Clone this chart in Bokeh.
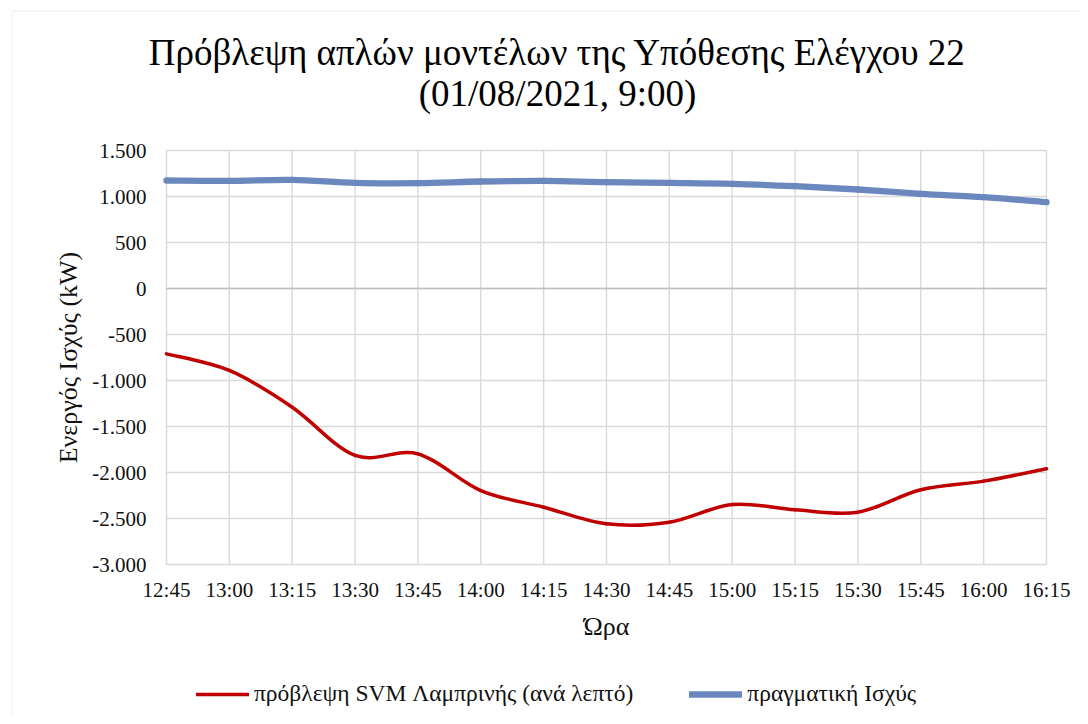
import numpy as np
from bokeh.plotting import figure
from bokeh.models import (Range1d, FixedTicker, Label, Legend, LegendItem,
                          PolyAnnotation, LinearAxis)
from bokeh.embed import file_html
from bokeh.resources import INLINE

# ---------------- data ----------------
times = ["12:45", "13:00", "13:15", "13:30", "13:45", "14:00", "14:15", "14:30",
         "14:45", "15:00", "15:15", "15:30", "15:45", "16:00", "16:15"]
svm_forecast = [-710, -891, -1290, -1815, -1797, -2196, -2377, -2558,
                -2540, -2348, -2406, -2431, -2188, -2094, -1960]
actual_power = [1174, 1170, 1181, 1148, 1145, 1163, 1170, 1156,
                1148, 1138, 1112, 1076, 1029, 993, 938]
y_ticks = [-3000, -2500, -2000, -1500, -1000, -500, 0, 500, 1000, 1500]
y_tick_labels = ["-3.000", "-2.500", "-2.000", "-1.500", "-1.000", "-500",
                 "0", "500", "1.000", "1.500"]
title_lines = ["Πρόβλεψη απλών μοντέλων της Υπόθεσης Ελέγχου 22",
               "(01/08/2021, 9:00)"]
x_title = "Ώρα"
y_title = "Ενεργός Ισχύς (kW)"
series_names = ["πρόβλεψη SVM Λαμπρινής (ανά λεπτό)", "πραγματική Ισχύς"]

FONT = "Liberation Serif"
W, H = 1080, 716
# plot-area placement (canvas pixels)
PL, PR, PT, PB = 166, 1046, 150, 564
Y_MIN, Y_MAX = y_ticks[0], y_ticks[-1]
N = len(times) - 1
GRID = "#D9D9D9"


def smooth_segments(vals):
    """Bezier control points (Excel-like smoothed line) through the points."""
    y = np.asarray(vals, dtype=float)
    x = np.arange(len(y), dtype=float)
    n = len(y)
    xm = np.concatenate([[x[0]], x, [x[-1]]])
    ym = np.concatenate([[y[0]], y, [y[-1]]])
    x0, y0 = x[:-1], y[:-1]
    x1, y1 = x[1:], y[1:]
    cx0 = x0 + (xm[2:n + 1] - xm[0:n - 1]) / 6.0
    cy0 = y0 + (ym[2:n + 1] - ym[0:n - 1]) / 6.0
    cx1 = x1 - (xm[3:n + 2] - xm[1:n]) / 6.0
    cy1 = y1 - (ym[3:n + 2] - ym[1:n]) / 6.0
    return dict(x0=x0, y0=y0, x1=x1, y1=y1, cx0=cx0, cy0=cy0, cx1=cx1, cy1=cy1)


# the frame covers the whole canvas; ranges chosen so the plot area sits at PL..PR, PT..PB
xpu = (PR - PL) / N
ypu = (PB - PT) / (Y_MAX - Y_MIN)
x_range = Range1d(-PL / xpu, N + (W - PR) / xpu)
y_range = Range1d(Y_MIN - (H - PB) / ypu, Y_MAX + PT / ypu)

p = figure(width=W, height=H, x_range=x_range, y_range=y_range,
           x_axis_type=None, y_axis_type=None,
           output_backend="svg", toolbar_location=None,
           min_border=0)
p.title.visible = False
p.background_fill_color = "white"
p.border_fill_color = "white"
p.outline_line_color = None

x_idx = list(range(len(times)))

# gridlines of the plot area (from the tick arrays)
p.segment(x0=x_idx, y0=[Y_MIN] * len(x_idx), x1=x_idx, y1=[Y_MAX] * len(x_idx),
          line_color=GRID, line_width=1.4)
p.segment(x0=[0] * len(y_ticks), y0=y_ticks, x1=[N] * len(y_ticks), y1=y_ticks,
          line_color=GRID, line_width=1.4)
# zero (axis) line
p.segment(x0=[0], y0=[0], x1=[N], y1=[0], line_color="#BFBFBF", line_width=1.4)

# axes fixed at the plot-area edges
xaxis = LinearAxis(fixed_location=Y_MIN, ticker=FixedTicker(ticks=x_idx),
                   major_label_overrides={i: t for i, t in enumerate(times)},
                   major_label_standoff=13)
yaxis = LinearAxis(fixed_location=0, ticker=FixedTicker(ticks=y_ticks),
                   major_label_overrides=dict(zip(y_ticks, y_tick_labels)),
                   major_label_standoff=20)
for ax in (xaxis, yaxis):
    ax.axis_line_color = None
    ax.major_tick_line_color = None
    ax.minor_tick_line_color = None
    ax.major_tick_in = 0
    ax.major_tick_out = 0
    ax.major_label_text_font = FONT
    ax.major_label_text_font_size = "21px"
    ax.major_label_text_color = "#111111"
p.add_layout(xaxis, "below")
p.add_layout(yaxis, "left")

# series
s_red = smooth_segments(svm_forecast)
s_blue = smooth_segments(actual_power)
r_red = p.bezier(x0="x0", y0="y0", x1="x1", y1="y1", cx0="cx0", cy0="cy0",
                 cx1="cx1", cy1="cy1", source=s_red, line_color="#C00000",
                 line_width=3.5, line_cap="round")
r_blue = p.bezier(x0="x0", y0="y0", x1="x1", y1="y1", cx0="cx0", cy0="cy0",
                  cx1="cx1", cy1="cy1", source=s_blue, line_color="#6A88BE",
                  line_width=6.3, line_cap="round")

# chart-area border (top & left visible)
p.add_layout(PolyAnnotation(xs=[11.5, 11.5, 1200, 1200],
                            ys=[-100, H - 10.5, H - 10.5, -100],
                            xs_units="screen", ys_units="screen",
                            fill_alpha=0, line_color=GRID, line_width=1.5))

# titles
p.add_layout(Label(x=557, y=H - 52, x_units="screen", y_units="screen",
                   text=title_lines[0], text_font=FONT, text_font_size="37px",
                   text_align="center", text_baseline="alphabetic",
                   text_color="#000000"))
p.add_layout(Label(x=557, y=H - 92.5, x_units="screen", y_units="screen",
                   text=title_lines[1], text_font=FONT, text_font_size="37px",
                   text_align="center", text_baseline="alphabetic",
                   text_color="#000000"))
p.add_layout(Label(x=(PL + PR) / 2, y=H - 626, x_units="screen", y_units="screen",
                   text=x_title, text_font=FONT, text_font_size="26px",
                   text_align="center", text_baseline="alphabetic",
                   text_color="#111111"))
p.add_layout(Label(x=68, y=H - (PT + PB) / 2, x_units="screen", y_units="screen",
                   text=y_title, text_font=FONT, text_font_size="26px",
                   text_align="center", text_baseline="middle",
                   angle=np.pi / 2, text_color="#111111"))

legend = Legend(items=[LegendItem(label=series_names[0], renderers=[r_red]),
                       LegendItem(label=series_names[1], renderers=[r_blue])],
                orientation="horizontal", location=(196, H - 707),
                label_text_font=FONT, label_text_font_size="23.5px",
                label_text_color="#111111",
                glyph_width=53, glyph_height=24, label_height=24,
                label_standoff=5, spacing=56, padding=0, margin=0,
                border_line_color=None, background_fill_alpha=0)
p.add_layout(legend)

open("out.html", "w").write(file_html(p, INLINE))
